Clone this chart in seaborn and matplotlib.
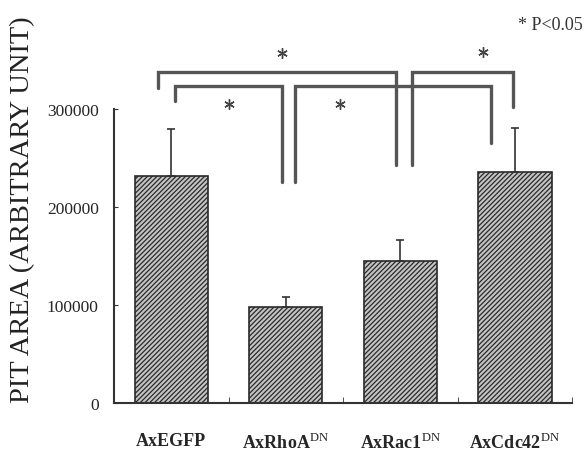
import numpy as np
import pandas as pd
import matplotlib
matplotlib.use("Agg")
import matplotlib.pyplot as plt
import seaborn as sns

# data
groups = ["AxEGFP", "AxRhoA$^{\\rm DN}$", "AxRac1$^{\\rm DN}$", "AxCdc42$^{\\rm DN}$"]
pit_area = [232000, 98000, 145000, 236000]
err_up = [48000, 10000, 22000, 45000]
yticks = [0, 100000, 200000, 300000]

# significance brackets: (x_left, x_right, y_top, y_left_end, y_right_end)
brackets = [
    (-0.12, 1.965, 338000, 322000, 243000),
    (2.105, 2.98, 338000, 243000, 302000),
    (0.035, 0.97, 324000, 308000, 226000),
    (1.083, 2.795, 324000, 226000, 266000),
]
stars_x = [0.97, 2.72, 0.50, 1.47]
stars_y = [357000, 358000, 305000, 305000]

sns.set_style("ticks")
plt.rcParams["font.family"] = ["Liberation Serif", "DejaVu Serif"]
plt.rcParams["mathtext.fontset"] = "custom"
plt.rcParams["mathtext.rm"] = "Liberation Serif"
plt.rcParams["mathtext.bf"] = "Liberation Serif:bold"
plt.rcParams["hatch.linewidth"] = 0.9

df = pd.DataFrame({"group": groups, "area": pit_area})

fig = plt.figure(figsize=(5.85, 4.52), dpi=100)
ax = fig.add_axes([0.195, 0.106, 0.783, 0.650])

sns.barplot(data=df, x="group", y="area", color="#c4c4c4", width=0.64,
            errorbar=None, saturation=1, ax=ax)
for p in ax.patches:
    p.set_hatch("///////")
    p.set_edgecolor("#2a2a2a")
    p.set_linewidth(1.2)

x = np.arange(len(groups))
ax.errorbar(x, pit_area, yerr=[np.zeros(len(groups)), err_up], fmt="none",
            ecolor="#333333", elinewidth=1.2, capsize=3, capthick=1.2)

# brackets
for xl, xr, yt, yl, yr in brackets:
    ax.plot([xl, xl, xr, xr], [yl, yt, yt, yr], color="#555555", lw=2.4,
            clip_on=False, solid_joinstyle="miter")
ax.plot(stars_x, stars_y, ls="none", marker=(6, 2, 0), ms=7.5, mew=1.0,
        color="#444444", clip_on=False)

fig.text(518 / 585, 1 - 25 / 452, "* P<0.05", fontsize=13, color="#333333",
         va="center", ha="left")

ax.set_xlim(-0.5, 3.5)
ax.set_ylim(0, 300000)
ax.set_yticks(yticks)
ax.set_yticklabels([str(t) for t in yticks], fontsize=12.5)
ax.tick_params(axis="y", direction="in", length=3, pad=11, color="#333333")
ax.tick_params(axis="x", length=0, pad=21)
ax.set_xticks([0.5, 1.5, 2.5, 3.5], minor=True)
ax.tick_params(axis="x", which="minor", direction="in", length=4, color="#333333")
for lab in ax.get_xticklabels():
    lab.set_fontweight("bold")
    lab.set_fontsize(13)
ax.set_xlabel("")
ax.set_ylabel("")
fig.text(23 / 585, 1 - 210 / 452, "PIT AREA (ARBITRARY UNIT)", fontsize=20.5,
         rotation=90, ha="center", va="center", color="#222222")
sns.despine(ax=ax)
for s in ["left", "bottom"]:
    ax.spines[s].set_linewidth(1.5)
    ax.spines[s].set_color("#333333")

fig.savefig("out.png", dpi=100)
